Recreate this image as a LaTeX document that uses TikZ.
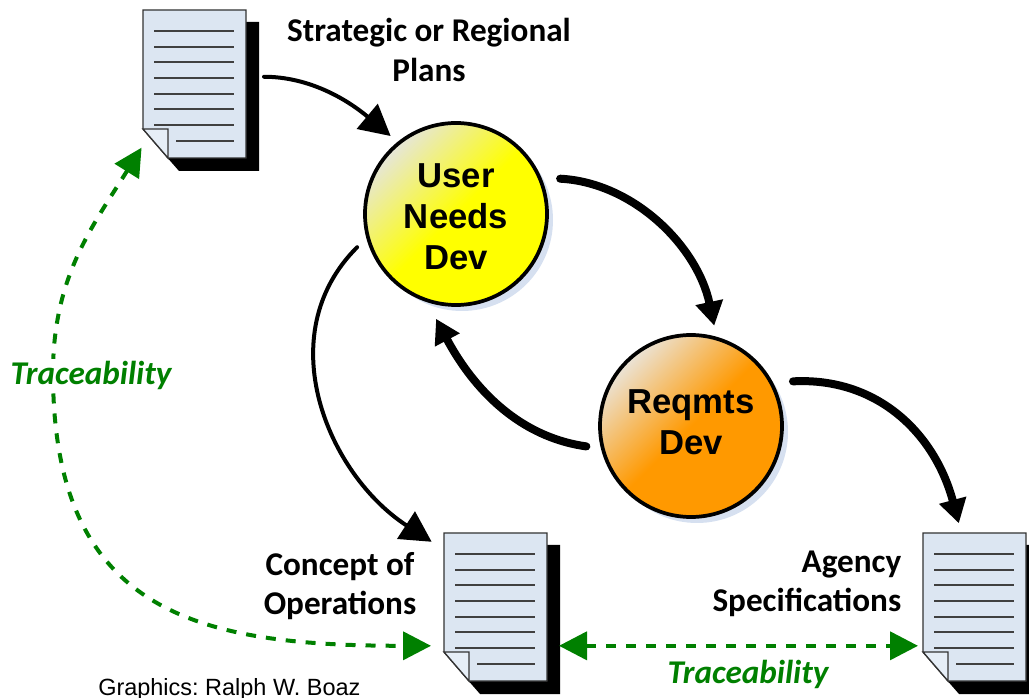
\documentclass[tikz,border=0pt]{standalone}
\usepackage{fontspec}
\setmainfont{Carlito}
\newfontfamily\arialfont{Liberation Sans}
\usetikzlibrary{arrows.meta, shadows}
\frenchspacing
\definecolor{pagefill}{HTML}{DCE6F2}
\definecolor{foldfill}{HTML}{E6EEF7}
\definecolor{shadowfill}{HTML}{D6E0F0}
\definecolor{tracegreen}{HTML}{008000}
\definecolor{paleyellow}{HTML}{E6E6D8}
\definecolor{paleorange}{HTML}{EBE3D6}
\definecolor{reqorange}{HTML}{FF9900}
\tikzset{
docpage/.style={minimum width=77.25pt, minimum height=111pt, inner sep=0pt, outer sep=0pt},
docline/.style={line width=1.1pt, color=black!75},
devcirc/.style={circle, draw=black, line width=2.8pt, minimum size=136.5pt, inner sep=0pt, align=center,
  font=\arialfont\bfseries\fontsize{26}{31}\selectfont,
  drop shadow={shadow xshift=4.5pt, shadow yshift=-4.5pt, fill=shadowfill, opacity=1}},
boldlabel/.style={font=\bfseries\fontsize{24.9}{29.5}\selectfont, align=center},
tracelabel/.style={font=\bfseries\itshape\fontsize{24.9}{29}\selectfont, text=tracegreen},
thinarrow/.style={draw=black, line width=3pt, line cap=round, -{Triangle[length=23pt, width=24pt]}},
fatarrow/.style={draw=black, line width=6pt, line cap=round, -{Triangle[length=18pt, width=20pt]}},
tracearrow/.style={draw=tracegreen, line width=3pt, dash pattern=on 7.5pt off 7.5pt,
  {Triangle[length=21pt, width=21pt]}-{Triangle[length=21pt, width=21pt]}},
}
\newcommand{\docicon}[2]{
\begin{scope}[shift={#2}]
\fill[black] (100,12) -- (116,12) -- (116,161) -- (36,161) -- (22,145) -- (100,145) -- cycle;
\node[docpage, anchor=north west] (#1) at (0,0) {};
\draw[fill=pagefill, draw=black!80, line width=1pt] (0,0) -- (103,0) -- (103,148) -- (25,148) -- (0,119) -- cycle;
\foreach \liney in {21,37,52,68,84,99,115}
  \draw[docline] (11,\liney) -- (91,\liney);
\draw[docline] (33,131) -- (91,131);
\draw[fill=foldfill, draw=black!80, line width=1pt] (0,119) -- (25,119) -- (25,148) -- cycle;
\end{scope}}
\begin{document}
\begin{tikzpicture}[x=0.75pt, y=-0.75pt]
\clip (0,0) rectangle (1029,698);
\docicon{plandoc}{(143,10)}
\docicon{conopsdoc}{(444,533)}
\docicon{agencydoc}{(923,533)}
\node[devcirc, top color=paleyellow, bottom color=yellow, middle color=yellow, shading angle=45,
  execute at begin node={\rule{0pt}{84pt}}] (usercirc) at (456,214) {User\\Needs\\Dev};
\node[devcirc, top color=paleorange, bottom color=reqorange, middle color=reqorange, shading angle=45,
  execute at end node={\rule[-6pt]{0pt}{6pt}}] (reqcirc) at (691,426) {Reqmts\\Dev};
\node[boldlabel] (planlabel) at (429,50) {Strategic or Regional\\Plans};
\node[boldlabel] (conopslabel) at (340,586) {Concept of\\Operations};
\node[boldlabel, align=right, anchor=east] (agencylabel) at (906,584) {Agency\\Specifications};
\coordinate (tracebend) at (53,373);
\draw[thinarrow, shorten <=13.5pt, shorten >=6.75pt] (plandoc.8) to [out=0, in=140] (usercirc.129);
\draw[thinarrow, shorten <=9.75pt, shorten >=11pt] (usercirc.195) to [out=225, in=147, looseness=1.1] (conopsdoc.132);
\draw[fatarrow, shorten <=14pt, shorten >=8.5pt] (usercirc.23) to [out=-3, in=102] (reqcirc.74);
\draw[fatarrow, shorten <=11pt, shorten >=14pt] (reqcirc.194) to [out=172, in=-62] (usercirc.252);
\draw[fatarrow, shorten <=15pt, shorten >=7.5pt] (reqcirc.28) to [out=3, in=105, looseness=1.1] (agencydoc.100);
\draw[tracearrow, shorten <=2pt, shorten >=9.75pt] (plandoc.230) to [out=238, in=90] (tracebend)
to [out=-90, in=180, looseness=1.3] (conopsdoc.217);
\draw[tracearrow, shorten <=9pt, shorten >=3.75pt] (conopsdoc.323) -- (agencydoc.217);
\node[tracelabel, fill=white, inner sep=1pt] (tracelefttext) at (91,375) {Traceability};
\node[tracelabel] (tracebottomtext) at (748,674) {Traceability};
\node[font=\arialfont\fontsize{17.6}{20}\selectfont, anchor=west, inner sep=0pt] (creditlabel) at (98,689) {Graphics: Ralph W. Boaz};
\end{tikzpicture}
\end{document}
